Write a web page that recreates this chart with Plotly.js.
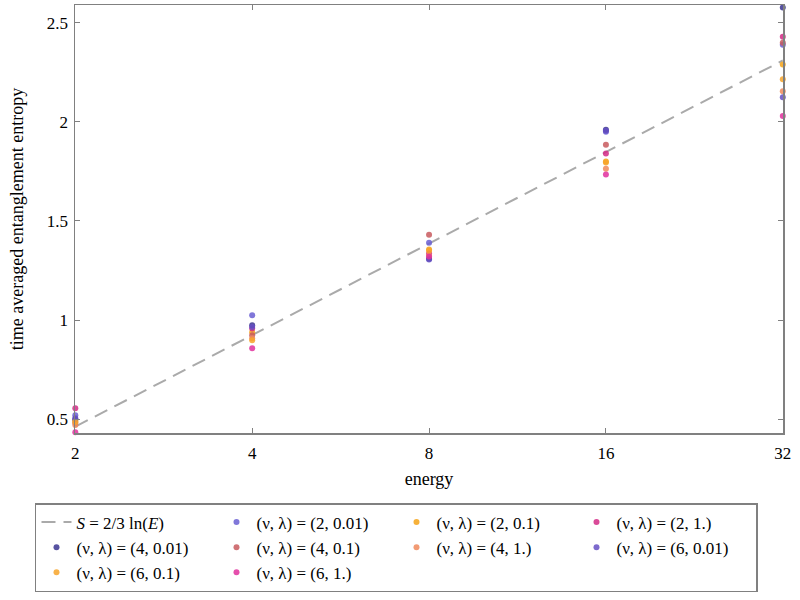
<!DOCTYPE html>
<html>
<head>
<meta charset="utf-8">
<script src="https://cdn.plot.ly/plotly-3.0.1.min.js"></script>
<style>
  html, body { margin: 0; padding: 0; background: #fff; }
</style>
</head>
<body>
<div id="chart" style="width:800px;height:600px;"></div>
<script>
  // energies on the x axis
  var energy = [2, 4, 8, 16, 32];
  // S = 2/3 ln(E), read at the same energies
  var fitLine = [0.462, 0.924, 1.386, 1.848, 2.310];

  var labels = [
    "(ν, λ) = (2, 0.01)", "(ν, λ) = (2, 0.1)", "(ν, λ) = (2, 1.)",
    "(ν, λ) = (4, 0.01)", "(ν, λ) = (4, 0.1)", "(ν, λ) = (4, 1.)",
    "(ν, λ) = (6, 0.01)", "(ν, λ) = (6, 0.1)", "(ν, λ) = (6, 1.)"
  ];

  var nu2_001 = [0.520, 1.024, 1.390, 1.950, 2.390];
  var nu2_01  = [0.490, 0.938, 1.356, 1.800, 2.290];
  var nu2_1   = [0.555, 0.958, 1.336, 1.840, 2.430];
  var nu4_001 = [0.500, 0.974, 1.310, 1.960, 2.578];
  var nu4_01  = [0.480, 0.923, 1.430, 1.885, 2.400];
  var nu4_1   = [0.470, 0.908, 1.325, 1.764, 2.155];
  var nu6_001 = [0.505, 0.965, 1.306, 1.955, 2.125];
  var nu6_01  = [0.485, 0.898, 1.350, 1.795, 2.215];
  var nu6_1   = [0.434, 0.858, 1.321, 1.734, 2.030];

  var series = [nu2_001, nu2_01, nu2_1, nu4_001, nu4_01, nu4_1, nu6_001, nu6_01, nu6_1];
  var colors = ["#6a5fd2", "#f5a318", "#d42a86", "#3b3590", "#c85a5e", "#f08a5c", "#6650c4", "#f7a52a", "#e0309e"];

  var yTicks = [0.5, 1, 1.5, 2, 2.5];
  var yTickText = ["0.5", "1", "1.5", "2", "2.5"];

  var data = [{
    type: "scatter",
    mode: "lines",
    x: energy,
    y: fitLine,
    name: "<i>S</i> = 2/3 ln(<i>E</i>)",
    line: { color: "#aaaaaa", width: 2, dash: "14px,8px" },
    hoverinfo: "none"
  }];
  for (var i = 0; i < series.length; i++) {
    data.push({
      type: "scatter",
      mode: "markers",
      x: energy,
      y: series[i],
      name: labels[i],
      marker: { color: colors[i], size: 6, opacity: 0.85 },
      hoverinfo: "none",
      cliponaxis: false
    });
  }

  var serif = "Liberation Serif, Times New Roman, serif";
  var axisStyle = {
    showline: true,
    linecolor: "#808080",
    linewidth: 1.5,
    mirror: "ticks",
    ticks: "inside",
    ticklen: 5,
    tickcolor: "#808080",
    showgrid: false,
    zeroline: false,
    tickfont: { family: serif, size: 17, color: "#000" }
  };

  var layout = {
    width: 800,
    height: 600,
    margin: { l: 75, r: 17, t: 5, b: 167 },
    paper_bgcolor: "#fff",
    plot_bgcolor: "#fff",
    font: { family: serif, size: 16, color: "#000" },
    xaxis: Object.assign({}, axisStyle, {
      type: "log",
      range: [0.3005, 1.5055],
      tickvals: energy,
      ticktext: ["2", "4", "8", "16", "32"],
      ticklabelstandoff: 4,
      title: { text: "energy", font: { family: serif, size: 18 }, standoff: 10 }
    }),
    yaxis: Object.assign({}, axisStyle, {
      range: [0.43, 2.59],
      tickvals: yTicks,
      ticktext: yTickText,
      ticklabelstandoff: 2,
      title: { text: "time averaged entanglement entropy", font: { family: serif, size: 18 }, standoff: 18 }
    }),
    showlegend: true,
    legend: {
      orientation: "h",
      xref: "paper",
      yref: "paper",
      x: -0.0565,
      y: -0.1636,
      xanchor: "left",
      yanchor: "top",
      bordercolor: "#808080",
      borderwidth: 1.5,
      entrywidth: 135,
      entrywidthmode: "pixels",
      font: { family: serif, size: 17 },
      itemwidth: 30
    }
  };

  Plotly.newPlot("chart", data, layout, { displayModeBar: false, staticPlot: true });
</script>
</body>
</html>
